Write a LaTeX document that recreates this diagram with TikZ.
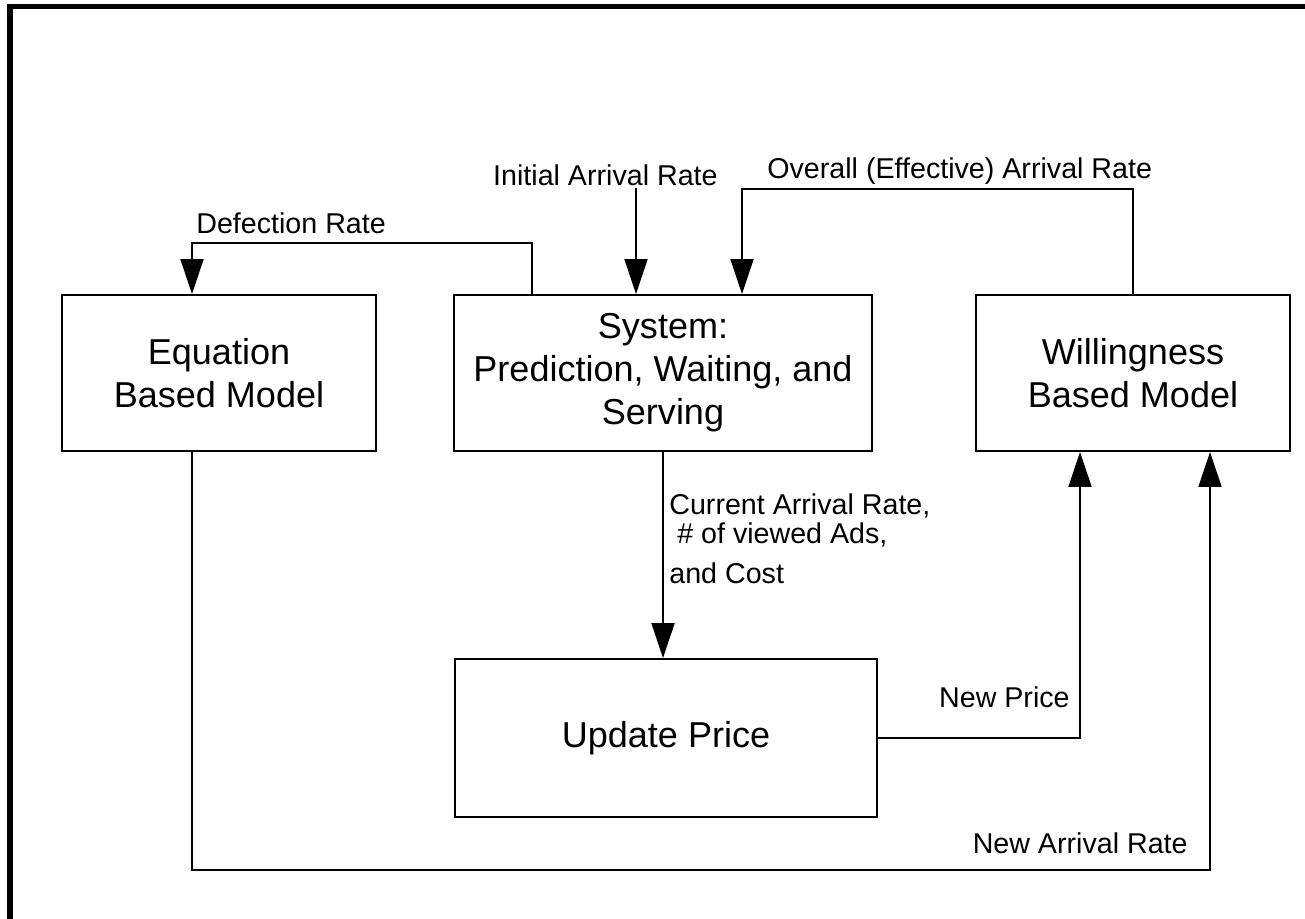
\documentclass[tikz,border=0pt]{standalone}
\usepackage{fontspec}
\setmainfont{Liberation Sans}
\usetikzlibrary{arrows.meta,positioning}

\begin{document}
\begin{tikzpicture}[
  block/.style={draw,line width=1.1pt,minimum width=6.28cm,minimum height=3.12cm,
    align=center,inner sep=0pt,font=\fontsize{20.5}{24.5}\selectfont},
  flow/.style={line width=1.1pt,-{Triangle[length=0.7cm,width=0.46cm]}},
  lbl/.style={inner sep=0pt,font=\fontsize{16.3}{16.5}\selectfont}]
\useasboundingbox (0,0) rectangle (26.1,-18.36);
\draw[line width=0.11cm] (0.196,-18.6) -- (0.196,-0.126) -- (26.4,-0.126);

\node[block] (eqn) at (4.38,-7.46) {Equation\\Based Model};
\node[block,minimum width=8.36cm] (sys) at (13.26,-7.46) {System:\\Prediction, Waiting, and\\Serving};
\node[block] (will) at (22.66,-7.46) {Willingness\\Based Model};
\node[block,minimum width=8.44cm,minimum height=3.16cm] (upd) at (13.32,-14.76) {Update Price};

\coordinate (dfr) at (10.64,-4.86);
\coordinate (dfl) at (3.84,-4.86);
\coordinate (init) at (12.72,-3.76);
\coordinate (ovr) at (14.84,-3.78);
\coordinate (np) at (21.6,-14.76);
\coordinate (nal) at (3.84,-17.4);
\coordinate (nar) at (24.2,-17.4);

\draw[flow] (sys.north -| dfr) -- (dfr) -- (dfl) -- (eqn.north -| dfl);
\draw[flow] (init) -- (sys.north -| init);
\draw[flow] (will.north) |- (ovr) -- (sys.north -| ovr);
\draw[flow] (sys.south) -- (upd.north -| sys.south);
\draw[flow] (upd.east |- np) -- (np) -- (will.south -| np);
\draw[flow] (eqn.south -| nal) -- (nal) -- (nar) -- (will.south -| nar);

\node[lbl,anchor=base west] (dfrate) at (3.92,-4.66) {Defection Rate};
\node[lbl,anchor=base east] (initrate) at (14.36,-3.70) {Initial Arrival Rate};
\node[lbl,anchor=base west] (ovrate) at (15.34,-3.56) {Overall (Effective) Arrival Rate};
\node[lbl,anchor=north west,align=left] (currate) at (13.38,-9.86) {Current Arrival Rate,\\~\# of viewed Ads,\\[0.22cm]and Cost};
\node[lbl,anchor=base east] (nprice) at (21.4,-14.14) {New Price};
\node[lbl,anchor=base east] (narate) at (23.76,-17.06) {New Arrival Rate};
\end{tikzpicture}
\end{document}
